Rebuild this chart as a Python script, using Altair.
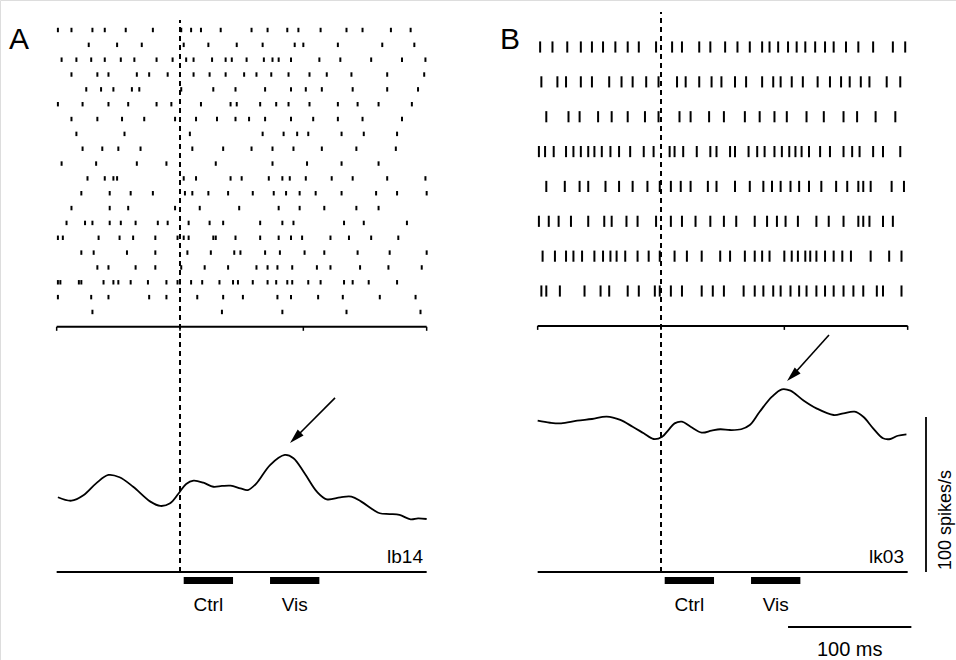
import altair as alt
import pandas as pd

# ---------------- data (times in ms relative to the event, rates in spikes/s) ----------------
raster_a = [
    [-99, -88, -71, -61, -44, -22, 1, 9, 17, 33, 58, 71, 87, 96, 114, 135, 148, 171, 187],
    [-74, -51, -31, 3, 23, 46, 67, 93, 100, 128, 164, 190],
    [-96, -84, -72, -61, -48, -37, -19, -6, 5, 11, 26, 37, 42, 54, 68, 75, 80, 90, 113, 130, 155, 180, 199],
    [-88, -67, -58, -35, -25, -10, 11, 24, 37, 52, 62, 74, 88, 105, 119, 139, 168, 198],
    [-76, -64, -54, -39, -33, 1, 27, 45, 69, 90, 102, 115, 140, 168, 193],
    [-99, -79, -58, -42, -19, -7, 17, 41, 46, 65, 78, 88, 105, 128, 144, 161, 188],
    [-88, -67, -47, -29, -4, 13, 30, 45, 56, 69, 90, 108, 128, 148, 180],
    [-84, -45, 8, 67, 84, 95, 104, 131, 149, 176],
    [-79, -63, -50, -32, 10, 35, 58, 75, 92, 115, 143, 175],
    [-96, -68, -35, -11, 29, 75, 103, 131, 161],
    [-75, -61, -54, -51, 3, 13, 41, 50, 72, 83, 89, 102, 123, 140, 168, 199],
    [-80, -57, -40, -22, 4, 10, 23, 39, 59, 76, 86, 97, 110, 131, 159, 176, 200],
    [-88, -57, -42, -4, 16, 48, 80, 97, 117, 143, 161],
    [-92, -77, -71, -57, -48, -36, -18, -10, 7, 24, 35, 65, 83, 92, 133, 149, 184],
    [-99, -95, -66, -49, -38, -20, -2, 3, 7, 27, 29, 45, 65, 80, 90, 99, 122, 137, 155, 177],
    [-80, -70, -43, -20, 6, 25, 44, 49, 69, 81, 101, 117, 144, 170, 200],
    [-67, -58, -36, -20, 1, 20, 39, 62, 71, 79, 91, 111, 122, 146, 169, 196],
    [-99, -97, -82, -80, -62, -54, -50, -40, -26, -11, -2, 0, 9, 18, 32, 43, 47, 59, 71, 78, 87, 91,
     104, 114, 133, 140, 153, 176],
    [-99, -72, -58, -25, -11, 14, 35, 51, 79, 90, 112, 132, 162, 191],
    [-71, 34, 83, 135, 195],
]

raster_b = [
    [-98, -88, -76, -65, -56, -47, -37, -27, -18, -4, 9, 17, 31, 40, 52, 62, 72, 82, 88, 95, 103, 110,
     117, 125, 133, 140, 150, 160, 172, 188, 198],
    [-97, -84, -77, -65, -56, -42, -32, -23, -12, -2, 13, 20, 31, 41, 49, 60, 69, 82, 91, 97, 106, 115,
     127, 137, 146, 153, 162, 169, 183, 194],
    [-93, -75, -66, -51, -40, -27, -13, -2, 15, 24, 39, 51, 68, 80, 92, 102, 118, 132, 148, 159, 174, 190],
    [-99, -94, -87, -77, -71, -65, -59, -54, -48, -41, -34, -25, -14, -6, 7, 11, 18, 29, 40, 45, 56, 60,
     71, 78, 84, 92, 98, 104, 109, 114, 120, 129, 137, 148, 155, 161, 172, 180, 194],
    [-93, -78, -66, -59, -45, -34, -23, -11, -1, 8, 16, 24, 38, 45, 60, 72, 83, 90, 97, 105, 112, 120,
     130, 142, 151, 160, 164, 170, 187, 197],
    [-99, -91, -83, -73, -59, -46, -40, -28, -19, -4, 8, 17, 28, 40, 51, 61, 76, 86, 94, 101, 111, 126,
     136, 148, 160, 164, 169, 180, 188],
    [-96, -86, -77, -71, -64, -54, -47, -41, -36, -29, -19, -10, -1, 11, 21, 33, 48, 56, 68, 76, 82, 88,
     100, 106, 111, 117, 121, 126, 133, 140, 147, 154, 170, 185, 195],
    [-97, -93, -82, -62, -49, -42, -27, -18, -5, -1, 8, 17, 33, 42, 51, 67, 76, 83, 91, 97, 105, 112,
     118, 126, 133, 140, 148, 156, 164, 175, 180, 195],
]

rate_a_t = [-99, -88, -78, -68, -58, -49, -38, -24, -16, -8, -1, 5, 11, 19, 27, 34, 41, 49, 55, 62,
            73, 85, 92, 101, 111, 119, 130, 139, 147, 157, 162, 170, 178, 187, 193, 200]
rate_a = [48.2, 46, 49.7, 57.2, 62.6, 61.1, 55, 45.4, 42.6, 44.3, 50.8, 56.8, 58.9, 57.6, 55, 55.5,
          55.7, 54, 52.9, 57.2, 69, 75.5, 73.4, 63.7, 51.8, 46.9, 48.2, 48.6, 45.4, 40, 37.9, 37.4,
          36.8, 34, 34.6, 34.2]

rate_b_t = [-100, -90, -81, -68, -56, -44, -33, -23, -14, -6, 1, 6, 11, 17, 24, 33, 41, 48, 56, 65,
            72, 80, 90, 98, 105, 115, 126, 140, 148, 157, 164, 172, 180, 186, 192, 199]
rate_b = [97.6, 96.3, 95.9, 97.6, 98.7, 100.2, 98.1, 93.7, 89.5, 85.8, 87.3, 91.6, 95.9, 97, 93.7,
          89.9, 91.2, 92.1, 91.6, 92.1, 94.8, 103.4, 113.1, 117.9, 117, 111, 105.6, 101.3, 102.4,
          103.4, 100.2, 92.7, 86.3, 85.8, 87.9, 88.8]

time_range = [-100, 200]
axis_ticks = [-100, 0, 100, 200]
epoch_names = ["Ctrl", "Vis"]
epoch_start = [3, 73]
epoch_end = [43, 113]
cell_names = ["lb14", "lk03"]
# arrows: (start time, start rate) -> (head time, head rate)
arrow_a = [125.7, 112.3, 93.5, 86.6]
arrow_b = [136.2, 152.9, 106.5, 126.6]
scale_rate = [0, 100]          # 100 spikes/s bar
scale_time = [103, 203]        # 100 ms bar

# ---------------- layout (pixels) ----------------
W, H = 956, 660
PX_PER_MS = 370 / 300
A_ZERO, B_ZERO = 180, 661
RATE_ZERO_PX, PX_PER_RATE = 572, 1.55
A_ROW1, A_STEP = 30, 14.84
B_ROW1, B_STEP = 47, 34.86
FONT = "Liberation Sans"


def xscale(zero):
    return alt.Scale(domain=[-zero / PX_PER_MS, (W - zero) / PX_PER_MS], nice=False, zero=False)


def row_scale(row1, step):
    return alt.Scale(domain=[1 - row1 / step, 1 + (H - row1) / step], reverse=True, nice=False, zero=False)


RATE = alt.Scale(domain=[-(H - RATE_ZERO_PX) / PX_PER_RATE, RATE_ZERO_PX / PX_PER_RATE], nice=False, zero=False)


def X(f, sc):
    return alt.X(f, type="quantitative", scale=sc, axis=None)


def Y(f, sc):
    return alt.Y(f, type="quantitative", scale=sc, axis=None)


def rate_py(px):
    return (RATE_ZERO_PX - px) / PX_PER_RATE


def panel(raster, half, row1, step, zero, rt, rv, cell, arrow, letter, dash_top_px, tick_len):
    xs = xscale(zero)
    rs = row_scale(row1, step)
    layers = []
    recs = []
    for i, trial in enumerate(raster, start=1):
        for t in trial:
            recs.append({"t": t, "y1": i - half, "y2": i + half})
    layers.append(alt.Chart(pd.DataFrame(recs)).mark_rule(color="black", strokeWidth=2, strokeCap="butt")
                  .encode(x=X("t", xs), y=Y("y1", rs), y2="y2:Q"))
    axis_row = len(raster) + 1
    layers.append(alt.Chart(pd.DataFrame({"t0": [time_range[0]], "t1": [time_range[1]], "r": [axis_row]}))
                  .mark_rule(color="black", strokeWidth=2)
                  .encode(x=X("t0", xs), x2="t1:Q", y=Y("r", rs)))
    layers.append(alt.Chart(pd.DataFrame({"t": axis_ticks, "y1": axis_row, "y2": axis_row + tick_len}))
                  .mark_rule(color="black", strokeWidth=1.5)
                  .encode(x=X("t", xs), y=Y("y1", rs), y2="y2:Q"))
    # rate curve
    layers.append(alt.Chart(pd.DataFrame({"t": rt, "r": rv})).mark_line(color="black", strokeWidth=1.8, interpolate="catmull-rom")
                  .encode(x=X("t", xs), y=Y("r", RATE)))
    # lower axis
    layers.append(alt.Chart(pd.DataFrame({"t0": [time_range[0]], "t1": [time_range[1]], "r": [0]}))
                  .mark_rule(color="black", strokeWidth=2)
                  .encode(x=X("t0", xs), x2="t1:Q", y=Y("r", RATE)))
    # event dashed line
    layers.append(alt.Chart(pd.DataFrame({"t": [0], "r0": [0], "r1": [rate_py(dash_top_px)]}))
                  .mark_rule(color="black", strokeWidth=2, strokeDash=[5, 4])
                  .encode(x=X("t", xs), y=Y("r0", RATE), y2="r1:Q"))
    # epoch bars
    layers.append(alt.Chart(pd.DataFrame({"t0": epoch_start, "t1": epoch_end, "r": rate_py(580.5)}))
                  .mark_rule(color="black", strokeWidth=7, strokeCap="butt")
                  .encode(x=X("t0", xs), x2="t1:Q", y=Y("r", RATE)))
    layers.append(alt.Chart(pd.DataFrame({"t": [(a + b) / 2 for a, b in zip(epoch_start, epoch_end)],
                                          "r": rate_py(605), "label": epoch_names}))
                  .mark_text(font=FONT, fontSize=19, color="black", align="center", baseline="middle")
                  .encode(x=X("t", xs), y=Y("r", RATE), text="label:N"))
    # cell name
    layers.append(alt.Chart(pd.DataFrame({"t": [197], "r": [rate_py(557)], "label": [cell]}))
                  .mark_text(font=FONT, fontSize=19, color="black", align="right", baseline="middle")
                  .encode(x=X("t", xs), y=Y("r", RATE), text="label:N"))
    # arrow
    layers.append(alt.Chart(pd.DataFrame({"t0": [arrow[0]], "r0": [arrow[1]], "t1": [arrow[2]], "r1": [arrow[3]]}))
                  .mark_rule(color="black", strokeWidth=1.6)
                  .encode(x=X("t0", xs), y=Y("r0", RATE), x2="t1:Q", y2="r1:Q"))
    layers.append(alt.Chart(pd.DataFrame({"t": [arrow[2]], "r": [arrow[3]]}))
                  .mark_point(shape="M0,-1L0.55,1L-0.55,1Z", filled=True, size=225, angle=225,
                              color="black", opacity=1, strokeWidth=0)
                  .encode(x=X("t", xs), y=Y("r", RATE)))
    # panel letter
    layers.append(alt.Chart(pd.DataFrame({"t": [letter[1]], "r": [rate_py(letter[2])], "label": [letter[0]]}))
                  .mark_text(font=FONT, fontSize=30, color="black", align="center", baseline="middle")
                  .encode(x=X("t", xs), y=Y("r", RATE), text="label:N"))
    return layers


layers = []
layers += panel(raster_a, 0.15, A_ROW1, A_STEP, A_ZERO, rate_a_t, rate_a, cell_names[0], arrow_a,
                ("A", (19 - A_ZERO) / PX_PER_MS, 40), 20, 0.27)
layers += panel(raster_b, 0.16, B_ROW1, B_STEP, B_ZERO, rate_b_t, rate_b, cell_names[1], arrow_b,
                ("B", (510 - B_ZERO) / PX_PER_MS, 40), 12, 0.115)

xb = xscale(B_ZERO)
# scale bars (panel B coordinates)
layers.append(alt.Chart(pd.DataFrame({"t": [(926 - B_ZERO) / PX_PER_MS], "r0": [scale_rate[0]], "r1": [scale_rate[1]]}))
              .mark_rule(color="black", strokeWidth=1.8)
              .encode(x=X("t", xb), y=Y("r0", RATE), y2="r1:Q"))
layers.append(alt.Chart(pd.DataFrame({"t": [(946 - B_ZERO) / PX_PER_MS], "r": [rate_py(520)], "label": ["100 spikes/s"]}))
              .mark_text(font=FONT, fontSize=18, color="black", align="center", baseline="middle", angle=270)
              .encode(x=X("t", xb), y=Y("r", RATE), text="label:N"))
layers.append(alt.Chart(pd.DataFrame({"t0": [scale_time[0]], "t1": [scale_time[1]], "r": [rate_py(627)]}))
              .mark_rule(color="black", strokeWidth=1.8)
              .encode(x=X("t0", xb), x2="t1:Q", y=Y("r", RATE)))
layers.append(alt.Chart(pd.DataFrame({"t": [(scale_time[0] + scale_time[1]) / 2], "r": [rate_py(650)], "label": ["100 ms"]}))
              .mark_text(font=FONT, fontSize=20, color="black", align="center", baseline="middle")
              .encode(x=X("t", xb), y=Y("r", RATE), text="label:N"))

chart = (alt.layer(*layers)
         .resolve_scale(x="independent", y="independent")
         .properties(width=W, height=H, autosize=alt.AutoSizeParams(type="none"), padding=0)
         .configure_view(stroke=None)
         .configure(background="white"))

chart.save("out.html", embed_options={"renderer": "svg", "actions": False})
